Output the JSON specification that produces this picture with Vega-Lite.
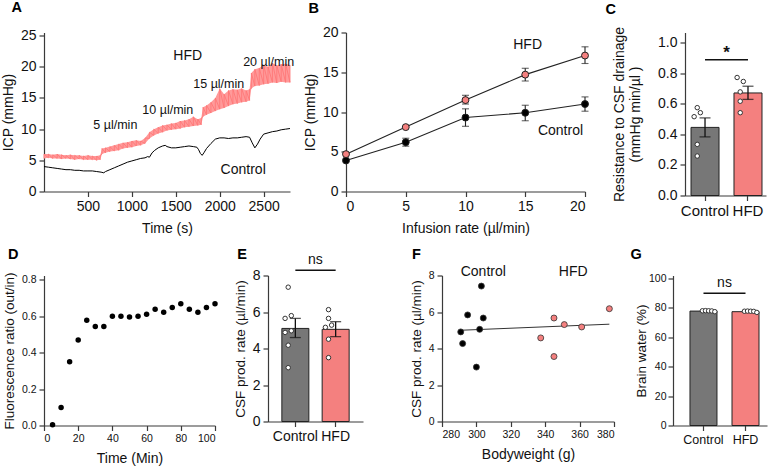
{
"$schema": "https://vega.github.io/schema/vega-lite/v6.json",
"padding": {"left": 1, "top": -0.5, "right": 2, "bottom": 0},
"config": {
  "view": {"stroke": null},
  "font": "Liberation Sans",
  "axis": {"grid": false, "labelOverlap": false, "domainColor": "#3a3a3a", "tickColor": "#3a3a3a", "domainWidth": 1.2, "tickWidth": 1.2, "tickSize": 5, "labelFont": "Liberation Sans", "titleFont": "Liberation Sans", "labelFontSize": 14, "titleFontSize": 14, "titleFontWeight": "normal", "labelColor": "#111", "titleColor": "#111", "labelPadding": 3, "titlePadding": 5},
  "title": {"font": "Liberation Sans", "fontSize": 14.5, "fontWeight": "bold", "anchor": "start", "frame": "bounds", "color": "#000", "offset": 8},
  "text": {"font": "Liberation Sans", "fontSize": 14, "color": "#111"}
},
"resolve": {"scale": {"fill": "independent"}},
"datasets": {
  "hfdA": [
    {"t": 0, "lo": 5.3, "hi": 6.0}, {"t": 50, "lo": 5.4, "hi": 6.0}, {"t": 100, "lo": 5.3, "hi": 5.9}, {"t": 150, "lo": 5.3, "hi": 6.0},
    {"t": 200, "lo": 5.2, "hi": 5.9}, {"t": 250, "lo": 5.3, "hi": 5.8}, {"t": 300, "lo": 5.2, "hi": 5.9}, {"t": 350, "lo": 5.1, "hi": 5.8},
    {"t": 400, "lo": 5.2, "hi": 5.8}, {"t": 450, "lo": 5.1, "hi": 5.7}, {"t": 500, "lo": 5.1, "hi": 5.8}, {"t": 550, "lo": 5.1, "hi": 5.7},
    {"t": 600, "lo": 5.0, "hi": 5.7}, {"t": 640, "lo": 5.1, "hi": 5.8}, {"t": 660, "lo": 6.0, "hi": 6.9}, {"t": 700, "lo": 6.2, "hi": 7.0},
    {"t": 750, "lo": 6.4, "hi": 7.2}, {"t": 800, "lo": 6.5, "hi": 7.4}, {"t": 850, "lo": 6.6, "hi": 7.6}, {"t": 900, "lo": 6.9, "hi": 7.8},
    {"t": 950, "lo": 7.0, "hi": 7.9}, {"t": 1000, "lo": 7.1, "hi": 8.1}, {"t": 1050, "lo": 7.3, "hi": 8.2}, {"t": 1100, "lo": 7.4, "hi": 8.1},
    {"t": 1150, "lo": 7.7, "hi": 8.6}, {"t": 1200, "lo": 8.5, "hi": 9.5}, {"t": 1250, "lo": 9.0, "hi": 10.0}, {"t": 1300, "lo": 9.3, "hi": 10.3},
    {"t": 1350, "lo": 9.5, "hi": 10.6}, {"t": 1400, "lo": 9.8, "hi": 10.7}, {"t": 1450, "lo": 9.9, "hi": 10.9}, {"t": 1500, "lo": 10.0, "hi": 11.0},
    {"t": 1550, "lo": 10.1, "hi": 11.3}, {"t": 1600, "lo": 10.3, "hi": 11.4}, {"t": 1650, "lo": 10.4, "hi": 11.6}, {"t": 1700, "lo": 10.5, "hi": 12.0},
    {"t": 1750, "lo": 10.6, "hi": 11.6}, {"t": 1790, "lo": 10.7, "hi": 11.8}, {"t": 1810, "lo": 12.0, "hi": 13.5}, {"t": 1850, "lo": 12.3, "hi": 13.8},
    {"t": 1900, "lo": 12.6, "hi": 14.3}, {"t": 1950, "lo": 12.9, "hi": 15.0}, {"t": 2000, "lo": 13.2, "hi": 16.5}, {"t": 2050, "lo": 13.4, "hi": 15.6},
    {"t": 2100, "lo": 13.7, "hi": 16.2}, {"t": 2150, "lo": 14.0, "hi": 16.4}, {"t": 2200, "lo": 14.1, "hi": 16.3}, {"t": 2250, "lo": 14.3, "hi": 16.5},
    {"t": 2300, "lo": 14.4, "hi": 16.2}, {"t": 2340, "lo": 14.6, "hi": 16.4}, {"t": 2360, "lo": 16.5, "hi": 19.0}, {"t": 2400, "lo": 16.9, "hi": 19.6},
    {"t": 2450, "lo": 17.0, "hi": 19.8}, {"t": 2500, "lo": 17.2, "hi": 20.3}, {"t": 2550, "lo": 17.3, "hi": 20.0}, {"t": 2600, "lo": 17.5, "hi": 20.6},
    {"t": 2650, "lo": 17.4, "hi": 20.2}, {"t": 2700, "lo": 17.6, "hi": 20.4}, {"t": 2750, "lo": 17.5, "hi": 20.5}, {"t": 2800, "lo": 17.5, "hi": 20.3}
  ],
  "ctlA": [
    {"t": 0, "icp": 4.0}, {"t": 50, "icp": 3.9}, {"t": 100, "icp": 3.8}, {"t": 150, "icp": 3.7}, {"t": 200, "icp": 3.6}, {"t": 250, "icp": 3.5},
    {"t": 300, "icp": 3.5}, {"t": 350, "icp": 3.4}, {"t": 400, "icp": 3.4}, {"t": 450, "icp": 3.3}, {"t": 500, "icp": 3.3}, {"t": 550, "icp": 3.3},
    {"t": 600, "icp": 3.2}, {"t": 650, "icp": 3.1}, {"t": 680, "icp": 3.0}, {"t": 700, "icp": 3.2}, {"t": 750, "icp": 3.5}, {"t": 800, "icp": 3.8},
    {"t": 850, "icp": 4.1}, {"t": 900, "icp": 4.4}, {"t": 950, "icp": 4.7}, {"t": 1000, "icp": 4.9}, {"t": 1050, "icp": 5.1}, {"t": 1100, "icp": 5.3},
    {"t": 1150, "icp": 5.4}, {"t": 1180, "icp": 5.6}, {"t": 1200, "icp": 5.5}, {"t": 1230, "icp": 6.2}, {"t": 1260, "icp": 6.6}, {"t": 1300, "icp": 7.0},
    {"t": 1350, "icp": 7.3}, {"t": 1380, "icp": 7.4}, {"t": 1400, "icp": 7.2}, {"t": 1450, "icp": 7.0}, {"t": 1500, "icp": 7.0}, {"t": 1550, "icp": 7.1},
    {"t": 1600, "icp": 7.2}, {"t": 1650, "icp": 7.3}, {"t": 1700, "icp": 7.2}, {"t": 1740, "icp": 7.1}, {"t": 1760, "icp": 6.7}, {"t": 1780, "icp": 6.1},
    {"t": 1800, "icp": 5.8}, {"t": 1820, "icp": 6.2}, {"t": 1850, "icp": 6.9}, {"t": 1900, "icp": 7.7}, {"t": 1950, "icp": 8.4}, {"t": 2000, "icp": 8.6},
    {"t": 2050, "icp": 8.6}, {"t": 2100, "icp": 8.5}, {"t": 2150, "icp": 8.6}, {"t": 2200, "icp": 8.6}, {"t": 2250, "icp": 8.7}, {"t": 2300, "icp": 8.8},
    {"t": 2340, "icp": 8.7}, {"t": 2370, "icp": 7.8}, {"t": 2400, "icp": 7.0}, {"t": 2430, "icp": 7.6}, {"t": 2460, "icp": 8.4}, {"t": 2500, "icp": 9.2},
    {"t": 2550, "icp": 9.4}, {"t": 2600, "icp": 9.6}, {"t": 2650, "icp": 9.7}, {"t": 2700, "icp": 9.9}, {"t": 2750, "icp": 10.0}, {"t": 2800, "icp": 10.1}
  ],
  "annA1": [
    {"t": 1636, "icp": 21.8, "label": "HFD"}, {"t": 2267, "icp": 3.5, "label": "Control"}
  ],
  "annA2": [
    {"t": 812, "icp": 10.6, "label": "5 µl/min"}, {"t": 1409, "icp": 13.0, "label": "10 µl/min"},
    {"t": 1989, "icp": 17.2, "label": "15 µl/min"}, {"t": 2557, "icp": 20.8, "label": "20 µl/min"}
  ],
  "icpB": [
    {"group": "Control", "rate": 0, "icp": 3.9, "lo": 3.9, "hi": 3.9},
    {"group": "Control", "rate": 5, "icp": 6.2, "lo": 5.7, "hi": 6.7},
    {"group": "Control", "rate": 10, "icp": 9.3, "lo": 8.2, "hi": 10.4},
    {"group": "Control", "rate": 15, "icp": 9.9, "lo": 8.9, "hi": 10.85},
    {"group": "Control", "rate": 20, "icp": 11.0, "lo": 10.1, "hi": 11.9},
    {"group": "HFD", "rate": 0, "icp": 4.7, "lo": 4.7, "hi": 4.7},
    {"group": "HFD", "rate": 5, "icp": 8.1, "lo": 8.1, "hi": 8.1},
    {"group": "HFD", "rate": 10, "icp": 11.5, "lo": 11.0, "hi": 12.1},
    {"group": "HFD", "rate": 15, "icp": 14.7, "lo": 13.9, "hi": 15.5},
    {"group": "HFD", "rate": 20, "icp": 17.1, "lo": 16.1, "hi": 18.2}
  ],
  "annB": [
    {"rate": 15.2, "icp": 18.4, "label": "HFD"}, {"rate": 17.95, "icp": 7.6, "label": "Control"}
  ],
  "barC": [
    {"group": "Control", "mean": 0.445, "lo": 0.383, "hi": 0.507},
    {"group": "HFD", "mean": 0.67, "lo": 0.628, "hi": 0.714}
  ],
  "dotC": [
    {"group": "Control", "slot": "l", "v": 0.515}, {"group": "Control", "slot": "c", "v": 0.574}, {"group": "Control", "slot": "r", "v": 0.541},
    {"group": "Control", "slot": "c", "v": 0.334}, {"group": "Control", "slot": "c", "v": 0.258},
    {"group": "HFD", "slot": "l", "v": 0.771}, {"group": "HFD", "slot": "r", "v": 0.745}, {"group": "HFD", "slot": "c", "v": 0.677},
    {"group": "HFD", "slot": "c", "v": 0.616}, {"group": "HFD", "slot": "c", "v": 0.541}
  ],
  "sigC": [{"a": "Control", "b": "HFD", "y": 0.887, "ty": 0.93, "txt": "*"}],
  "ratioD": [
    {"t": 5, "r": 0.004}, {"t": 10, "r": 0.099}, {"t": 15, "r": 0.349}, {"t": 20, "r": 0.468}, {"t": 25, "r": 0.577},
    {"t": 30, "r": 0.542}, {"t": 35, "r": 0.542}, {"t": 40, "r": 0.599}, {"t": 45, "r": 0.599}, {"t": 50, "r": 0.594},
    {"t": 55, "r": 0.599}, {"t": 60, "r": 0.610}, {"t": 65, "r": 0.637}, {"t": 70, "r": 0.621}, {"t": 75, "r": 0.647},
    {"t": 80, "r": 0.667}, {"t": 85, "r": 0.637}, {"t": 90, "r": 0.621}, {"t": 95, "r": 0.647}, {"t": 100, "r": 0.667}
  ],
  "barE": [
    {"group": "Control", "mean": 5.1, "lo": 4.6, "hi": 5.65},
    {"group": "HFD", "mean": 5.05, "lo": 4.65, "hi": 5.47}
  ],
  "dotE": [
    {"group": "Control", "slot": "c", "v": 7.36}, {"group": "Control", "slot": "r", "v": 5.80}, {"group": "Control", "slot": "l", "v": 5.65},
    {"group": "Control", "slot": "r", "v": 4.97}, {"group": "Control", "slot": "l", "v": 4.88}, {"group": "Control", "slot": "c", "v": 4.18},
    {"group": "Control", "slot": "c", "v": 2.95},
    {"group": "HFD", "slot": "c", "v": 6.13}, {"group": "HFD", "slot": "c", "v": 5.65}, {"group": "HFD", "slot": "r", "v": 5.28},
    {"group": "HFD", "slot": "l", "v": 5.16}, {"group": "HFD", "slot": "c", "v": 4.51}, {"group": "HFD", "slot": "c", "v": 3.5}
  ],
  "sigE": [{"a": "Control", "b": "HFD", "y": 8.29, "ty": 8.85, "txt": "ns"}],
  "dotF": [
    {"group": "Control", "bw": 290.9, "cpr": 4.91}, {"group": "Control", "bw": 292.0, "cpr": 4.27}, {"group": "Control", "bw": 294.9, "cpr": 5.84},
    {"group": "Control", "bw": 300.0, "cpr": 2.98}, {"group": "Control", "bw": 301.9, "cpr": 5.05}, {"group": "Control", "bw": 302.9, "cpr": 7.42},
    {"group": "Control", "bw": 304.0, "cpr": 5.67},
    {"group": "HFD", "bw": 337.4, "cpr": 4.58}, {"group": "HFD", "bw": 345.1, "cpr": 5.67}, {"group": "HFD", "bw": 345.1, "cpr": 3.56},
    {"group": "HFD", "bw": 351.1, "cpr": 5.31}, {"group": "HFD", "bw": 361.2, "cpr": 5.18}, {"group": "HFD", "bw": 377.3, "cpr": 6.18}
  ],
  "annF": [
    {"bw": 304.0, "cpr": 8.18, "label": "Control"}, {"bw": 356.3, "cpr": 8.18, "label": "HFD"}
  ],
  "barG": [
    {"group": "Control", "mean": 77.8, "lo": 77.5, "hi": 78.1},
    {"group": "HFD", "mean": 77.4, "lo": 77.1, "hi": 77.7}
  ],
  "dotG": [
    {"group": "Control", "slot": "1", "v": 78.0}, {"group": "Control", "slot": "2", "v": 78.1}, {"group": "Control", "slot": "3", "v": 78.0},
    {"group": "Control", "slot": "4", "v": 77.9}, {"group": "Control", "slot": "5", "v": 77.4},
    {"group": "HFD", "slot": "1", "v": 77.7}, {"group": "HFD", "slot": "2", "v": 77.8}, {"group": "HFD", "slot": "3", "v": 77.7},
    {"group": "HFD", "slot": "4", "v": 77.6}, {"group": "HFD", "slot": "5", "v": 76.9}
  ],
  "sigG": [{"a": "Control", "b": "HFD", "y": 90, "ty": 97, "txt": "ns"}],
  "labD": [{"t": 0, "r": 0.822, "lab": "D"}],
  "labE": [{"lab": "E"}],
  "labF": [{"bw": 280, "cpr": 8, "lab": "F"}],
  "labG": [{"lab": "G"}]
},
"spacing": 11,
"vconcat": [
  {
    "spacing": 8,
    "resolve": {"scale": {"fill": "independent"}},
    "hconcat": [
      {
        "width": 246, "height": 159,
        "title": {"text": "A", "dx": 10, "offset": 13},
        "layer": [
          {"data": {"name": "hfdA"}, "mark": {"type": "area", "color": "#ff9a9a", "opacity": 1},
           "encoding": {
             "x": {"field": "t", "type": "quantitative", "scale": {"domain": [0, 2800], "nice": false}, "axis": {"values": [500, 1000, 1500, 2000, 2500], "format": "d", "title": "Time (s)", "titlePadding": 8}},
             "y": {"field": "lo", "type": "quantitative", "scale": {"domain": [0, 25.5], "nice": false}, "axis": {"values": [0, 5, 10, 15, 20, 25], "title": "ICP (mmHg)"}},
             "y2": {"field": "hi"}}},
          {"data": {"name": "hfdA"}, "transform": [{"fold": ["lo", "hi"], "as": ["edge", "icp"]}], "mark": {"type": "line", "color": "#ff7474", "strokeWidth": 0.8},
           "encoding": {
             "x": {"field": "t", "type": "quantitative", "scale": {"domain": [0, 2800], "nice": false}, "axis": {"values": [500, 1000, 1500, 2000, 2500], "format": "d", "title": "Time (s)", "titlePadding": 8}},
             "y": {"field": "icp", "type": "quantitative", "scale": {"domain": [0, 25.5], "nice": false}, "axis": {"values": [0, 5, 10, 15, 20, 25], "title": "ICP (mmHg)"}}}},
          {"data": {"name": "ctlA"}, "mark": {"type": "line", "color": "#000", "strokeWidth": 1},
           "encoding": {
             "x": {"field": "t", "type": "quantitative", "scale": {"domain": [0, 2800], "nice": false}, "axis": {"values": [500, 1000, 1500, 2000, 2500], "format": "d", "title": "Time (s)", "titlePadding": 8}},
             "y": {"field": "icp", "type": "quantitative", "scale": {"domain": [0, 25.5], "nice": false}, "axis": {"values": [0, 5, 10, 15, 20, 25], "title": "ICP (mmHg)"}}}},
          {"data": {"name": "annA1"}, "mark": {"type": "text", "fontSize": 14},
           "encoding": {
             "x": {"field": "t", "type": "quantitative", "scale": {"domain": [0, 2800], "nice": false}, "axis": {"values": [500, 1000, 1500, 2000, 2500], "format": "d", "title": "Time (s)", "titlePadding": 8}},
             "y": {"field": "icp", "type": "quantitative", "scale": {"domain": [0, 25.5], "nice": false}, "axis": {"values": [0, 5, 10, 15, 20, 25], "title": "ICP (mmHg)"}},
             "text": {"field": "label"}}},
          {"data": {"name": "annA2"}, "mark": {"type": "text", "fontSize": 12.5},
           "encoding": {
             "x": {"field": "t", "type": "quantitative", "scale": {"domain": [0, 2800], "nice": false}, "axis": {"values": [500, 1000, 1500, 2000, 2500], "format": "d", "title": "Time (s)", "titlePadding": 8}},
             "y": {"field": "icp", "type": "quantitative", "scale": {"domain": [0, 25.5], "nice": false}, "axis": {"values": [0, 5, 10, 15, 20, 25], "title": "ICP (mmHg)"}},
             "text": {"field": "label"}}}
        ]
      },
      {
        "width": 239, "height": 159,
        "title": {"text": "B", "dx": 5, "offset": 9},
        "encoding": {
          "x": {"field": "rate", "type": "quantitative", "scale": {"domain": [0, 20], "nice": false}, "axis": {"values": [0, 5, 10, 15, 20], "title": "Infusion rate (µl/min)", "titlePadding": 8}}
        },
        "layer": [
          {"data": {"name": "icpB"}, "mark": {"type": "line", "color": "#222", "strokeWidth": 1.1},
           "encoding": {
             "y": {"field": "icp", "type": "quantitative", "scale": {"domain": [0, 20], "nice": false}, "axis": {"values": [0, 5, 10, 15, 20], "title": "ICP (mmHg)"}},
             "detail": {"field": "group"}}},
          {"data": {"name": "icpB"}, "transform": [{"filter": "datum.hi > datum.lo"}], "mark": {"type": "rule", "color": "#222", "strokeWidth": 1.1},
           "encoding": {"y": {"field": "lo", "type": "quantitative", "scale": {"domain": [0, 20], "nice": false}, "axis": {"values": [0, 5, 10, 15, 20], "title": "ICP (mmHg)"}}, "y2": {"field": "hi"}}},
          {"data": {"name": "icpB"}, "transform": [{"filter": "datum.hi > datum.lo"}], "mark": {"type": "tick", "orient": "horizontal", "color": "#222", "size": 7, "thickness": 1.1},
           "encoding": {"y": {"field": "lo", "type": "quantitative", "scale": {"domain": [0, 20], "nice": false}, "axis": {"values": [0, 5, 10, 15, 20], "title": "ICP (mmHg)"}}}},
          {"data": {"name": "icpB"}, "transform": [{"filter": "datum.hi > datum.lo"}], "mark": {"type": "tick", "orient": "horizontal", "color": "#222", "size": 7, "thickness": 1.1},
           "encoding": {"y": {"field": "hi", "type": "quantitative", "scale": {"domain": [0, 20], "nice": false}, "axis": {"values": [0, 5, 10, 15, 20], "title": "ICP (mmHg)"}}}},
          {"data": {"name": "icpB"}, "mark": {"type": "point", "filled": true, "size": 48, "stroke": "#222", "strokeWidth": 1, "opacity": 1},
           "encoding": {"y": {"field": "icp", "type": "quantitative", "scale": {"domain": [0, 20], "nice": false}, "axis": {"values": [0, 5, 10, 15, 20], "title": "ICP (mmHg)"}},
             "fill": {"field": "group", "type": "nominal", "scale": {"domain": ["Control", "HFD"], "range": ["#000000", "#f4807f"]}, "legend": null}}},
          {"data": {"name": "annB"}, "mark": {"type": "text", "fontSize": 14},
           "encoding": {"y": {"field": "icp", "type": "quantitative", "scale": {"domain": [0, 20], "nice": false}, "axis": {"values": [0, 5, 10, 15, 20], "title": "ICP (mmHg)"}}, "text": {"field": "label"}}},
          {"data": {"name": "annB"}, "transform": [{"filter": "datum.label == 'HFD'"}], "mark": {"type": "text", "fontSize": 14, "opacity": 0, "text": "XXX", "align": "right", "dx": 69},
           "encoding": {"y": {"field": "icp", "type": "quantitative", "scale": {"domain": [0, 20], "nice": false}, "axis": {"values": [0, 5, 10, 15, 20], "title": "ICP (mmHg)"}}}}
        ]
      },
      {
        "width": 81, "height": 163,
        "title": {"text": "C", "dx": -7, "offset": 9},
        "encoding": {
          "x": {"field": "group", "type": "nominal", "scale": {"domain": ["Control", "HFD"], "paddingInner": 0.349, "paddingOuter": 0.117, "align": 0.6}, "axis": {"title": null, "labelAngle": 0, "labelFontSize": 15}}
        },
        "layer": [
          {"data": {"name": "barC"}, "mark": {"type": "bar", "stroke": "#222", "strokeWidth": 1, "width": 28},
           "encoding": {
             "y": {"field": "mean", "type": "quantitative", "scale": {"domain": [0, 1.065], "nice": false}, "axis": {"values": [0, 0.2, 0.4, 0.6, 0.8, 1.0], "format": ".1f", "title": ["Resistance to CSF drainage", "(mmHg min/µl )"], "titleLineHeight": 16, "titlePadding": 15}},
             "fill": {"field": "group", "type": "nominal", "scale": {"domain": ["Control", "HFD"], "range": ["#777777", "#f4807f"]}, "legend": null}}},
          {"data": {"name": "barC"}, "mark": {"type": "rule", "color": "#111", "strokeWidth": 1.3},
           "encoding": {"y": {"field": "lo", "type": "quantitative", "scale": {"domain": [0, 1.065], "nice": false}, "axis": {"values": [0, 0.2, 0.4, 0.6, 0.8, 1.0], "format": ".1f", "title": ["Resistance to CSF drainage", "(mmHg min/µl )"], "titleLineHeight": 16, "titlePadding": 15}}, "y2": {"field": "hi"}}},
          {"data": {"name": "barC"}, "mark": {"type": "tick", "color": "#111", "size": 11, "thickness": 1.3},
           "encoding": {"y": {"field": "lo", "type": "quantitative", "scale": {"domain": [0, 1.065], "nice": false}, "axis": {"values": [0, 0.2, 0.4, 0.6, 0.8, 1.0], "format": ".1f", "title": ["Resistance to CSF drainage", "(mmHg min/µl )"], "titleLineHeight": 16, "titlePadding": 15}}}},
          {"data": {"name": "barC"}, "mark": {"type": "tick", "color": "#111", "size": 11, "thickness": 1.3},
           "encoding": {"y": {"field": "hi", "type": "quantitative", "scale": {"domain": [0, 1.065], "nice": false}, "axis": {"values": [0, 0.2, 0.4, 0.6, 0.8, 1.0], "format": ".1f", "title": ["Resistance to CSF drainage", "(mmHg min/µl )"], "titleLineHeight": 16, "titlePadding": 15}}}},
          {"data": {"name": "dotC"}, "mark": {"type": "point", "filled": true, "fill": "#ffffff", "stroke": "#333", "strokeWidth": 1, "size": 20, "opacity": 1},
           "encoding": {"xOffset": {"field": "slot", "type": "nominal", "scale": {"domain": ["l", "c", "r"], "paddingOuter": 1.3}},
             "y": {"field": "v", "type": "quantitative", "scale": {"domain": [0, 1.065], "nice": false}, "axis": {"values": [0, 0.2, 0.4, 0.6, 0.8, 1.0], "format": ".1f", "title": ["Resistance to CSF drainage", "(mmHg min/µl )"], "titleLineHeight": 16, "titlePadding": 15}}}},
          {"data": {"name": "sigC"}, "mark": {"type": "rule", "color": "#111", "strokeWidth": 1.5},
           "encoding": {"x": {"field": "a", "type": "nominal", "scale": {"domain": ["Control", "HFD"], "paddingInner": 0.349, "paddingOuter": 0.117, "align": 0.6}, "axis": {"title": null, "labelAngle": 0, "labelFontSize": 15}}, "x2": {"field": "b"},
             "y": {"field": "y", "type": "quantitative", "scale": {"domain": [0, 1.065], "nice": false}, "axis": {"values": [0, 0.2, 0.4, 0.6, 0.8, 1.0], "format": ".1f", "title": ["Resistance to CSF drainage", "(mmHg min/µl )"], "titleLineHeight": 16, "titlePadding": 15}}}},
          {"data": {"name": "sigC"}, "mark": {"type": "text", "fontSize": 17, "fontWeight": "bold", "dx": 21.5},
           "encoding": {"x": {"field": "a", "type": "nominal", "scale": {"domain": ["Control", "HFD"], "paddingInner": 0.349, "paddingOuter": 0.117, "align": 0.6}, "axis": {"title": null, "labelAngle": 0, "labelFontSize": 15}},
             "y": {"field": "ty", "type": "quantitative", "scale": {"domain": [0, 1.065], "nice": false}, "axis": {"values": [0, 0.2, 0.4, 0.6, 0.8, 1.0], "format": ".1f", "title": ["Resistance to CSF drainage", "(mmHg min/µl )"], "titleLineHeight": 16, "titlePadding": 15}}, "text": {"field": "txt"}}}
        ]
      }
    ]
  },
  {
    "spacing": 15,
    "resolve": {"scale": {"fill": "independent"}},
    "hconcat": [
      {
        "width": 171, "height": 150,
        "encoding": {
          "x": {"field": "t", "type": "quantitative", "scale": {"domain": [0, 100], "nice": false}, "axis": {"values": [0, 20, 40, 60, 80, 100], "title": "Time (Min)", "labelFontSize": 10.5, "titleFontSize": 14, "titlePadding": 7}},
          "y": {"field": "r", "type": "quantitative", "scale": {"domain": [0, 0.822], "nice": false}, "axis": {"values": [0, 0.2, 0.4, 0.6, 0.8], "format": ".1f", "title": "Fluorescence ratio (out/in)", "labelFontSize": 10.5, "titleFontSize": 13.5}}
        },
        "layer": [
          {"data": {"name": "ratioD"}, "mark": {"type": "point", "filled": true, "color": "#000", "size": 30, "opacity": 1}},
          {"data": {"name": "labD"}, "mark": {"type": "text", "font": "Liberation Sans", "fontSize": 14.5, "fontWeight": "bold", "color": "#000", "align": "left", "baseline": "middle", "dx": -36, "dy": -21},
           "encoding": {"text": {"field": "lab"}}}
        ]
      },
      {
        "width": 95, "height": 146,
        "encoding": {
          "x": {"field": "group", "type": "nominal", "scale": {"domain": ["Control", "HFD"], "paddingInner": 0.337, "paddingOuter": 0.347}, "axis": {"title": null, "labelAngle": 0, "labelFontSize": 14}}
        },
        "layer": [
          {"data": {"name": "barE"}, "mark": {"type": "bar", "stroke": "#222", "strokeWidth": 1, "width": 27},
           "encoding": {
             "y": {"field": "mean", "type": "quantitative", "scale": {"domain": [0, 8], "nice": false}, "axis": {"values": [0, 2, 4, 6, 8], "title": "CSF prod. rate (µl/min)", "titleFontSize": 13.5}},
             "fill": {"field": "group", "type": "nominal", "scale": {"domain": ["Control", "HFD"], "range": ["#777777", "#f4807f"]}, "legend": null}}},
          {"data": {"name": "barE"}, "mark": {"type": "rule", "color": "#111", "strokeWidth": 1.3},
           "encoding": {"y": {"field": "lo", "type": "quantitative", "scale": {"domain": [0, 8], "nice": false}, "axis": {"values": [0, 2, 4, 6, 8], "title": "CSF prod. rate (µl/min)", "titleFontSize": 13.5}}, "y2": {"field": "hi"}}},
          {"data": {"name": "barE"}, "mark": {"type": "tick", "color": "#111", "size": 11, "thickness": 1.3},
           "encoding": {"y": {"field": "lo", "type": "quantitative", "scale": {"domain": [0, 8], "nice": false}, "axis": {"values": [0, 2, 4, 6, 8], "title": "CSF prod. rate (µl/min)", "titleFontSize": 13.5}}}},
          {"data": {"name": "barE"}, "mark": {"type": "tick", "color": "#111", "size": 11, "thickness": 1.3},
           "encoding": {"y": {"field": "hi", "type": "quantitative", "scale": {"domain": [0, 8], "nice": false}, "axis": {"values": [0, 2, 4, 6, 8], "title": "CSF prod. rate (µl/min)", "titleFontSize": 13.5}}}},
          {"data": {"name": "dotE"}, "mark": {"type": "point", "filled": true, "fill": "#ffffff", "stroke": "#333", "strokeWidth": 1, "size": 20, "opacity": 1},
           "encoding": {"xOffset": {"field": "slot", "type": "nominal", "scale": {"domain": ["l", "c", "r"], "paddingOuter": 1.34}},
             "y": {"field": "v", "type": "quantitative", "scale": {"domain": [0, 8], "nice": false}, "axis": {"values": [0, 2, 4, 6, 8], "title": "CSF prod. rate (µl/min)", "titleFontSize": 13.5}}}},
          {"data": {"name": "sigE"}, "mark": {"type": "rule", "color": "#111", "strokeWidth": 1.5},
           "encoding": {"x": {"field": "a", "type": "nominal", "scale": {"domain": ["Control", "HFD"], "paddingInner": 0.337, "paddingOuter": 0.347}, "axis": {"title": null, "labelAngle": 0, "labelFontSize": 14}}, "x2": {"field": "b"},
             "y": {"field": "y", "type": "quantitative", "scale": {"domain": [0, 8], "nice": false}, "axis": {"values": [0, 2, 4, 6, 8], "title": "CSF prod. rate (µl/min)", "titleFontSize": 13.5}}}},
          {"data": {"name": "sigE"}, "mark": {"type": "text", "fontSize": 14, "dx": 20},
           "encoding": {"x": {"field": "a", "type": "nominal", "scale": {"domain": ["Control", "HFD"], "paddingInner": 0.337, "paddingOuter": 0.347}, "axis": {"title": null, "labelAngle": 0, "labelFontSize": 14}},
             "y": {"field": "ty", "type": "quantitative", "scale": {"domain": [0, 8], "nice": false}, "axis": {"values": [0, 2, 4, 6, 8], "title": "CSF prod. rate (µl/min)", "titleFontSize": 13.5}}, "text": {"field": "txt"}}},
          {"data": {"name": "sigE"}, "mark": {"type": "text", "fontSize": 14, "opacity": 0, "text": "XXX", "align": "right", "dx": 98},
           "encoding": {"x": {"field": "a", "type": "nominal", "scale": {"domain": ["Control", "HFD"], "paddingInner": 0.337, "paddingOuter": 0.347}, "axis": {"title": null, "labelAngle": 0, "labelFontSize": 14}},
             "y": {"field": "y", "type": "quantitative", "scale": {"domain": [0, 8], "nice": false}, "axis": {"values": [0, 2, 4, 6, 8], "title": "CSF prod. rate (µl/min)", "titleFontSize": 13.5}}}},
          {"data": {"name": "labE"}, "mark": {"type": "text", "font": "Liberation Sans", "fontSize": 14.5, "fontWeight": "bold", "color": "#000", "align": "left", "baseline": "middle", "dx": -58, "dy": -21},
           "encoding": {"x": {"datum": "Control", "type": "nominal", "scale": {"domain": ["Control", "HFD"], "paddingInner": 0.337, "paddingOuter": 0.347}, "axis": {"title": null, "labelAngle": 0, "labelFontSize": 14}},
             "y": {"datum": 8, "type": "quantitative", "scale": {"domain": [0, 8], "nice": false}, "axis": {"values": [0, 2, 4, 6, 8], "title": "CSF prod. rate (µl/min)", "titleFontSize": 13.5}}, "text": {"field": "lab"}}}
        ]
      },
      {
        "width": 172, "height": 146,
        "encoding": {
          "x": {"field": "bw", "type": "quantitative", "scale": {"domain": [280, 380], "nice": false}, "axis": {"values": [280, 300, 320, 340, 360, 380], "title": "Bodyweight (g)", "labelFontSize": 10.5, "titlePadding": 7}},
          "y": {"field": "cpr", "type": "quantitative", "scale": {"domain": [0, 8], "nice": false}, "axis": {"values": [0, 2, 4, 6, 8], "title": "CSF prod. rate (µl/min)", "labelFontSize": 10.5, "titleFontSize": 13.5, "titlePadding": 5}}
        },
        "layer": [
          {"data": {"name": "dotF"}, "transform": [{"regression": "cpr", "on": "bw"}], "mark": {"type": "line", "color": "#333", "strokeWidth": 1}},
          {"data": {"name": "dotF"}, "mark": {"type": "point", "filled": true, "size": 36, "stroke": "#333", "strokeWidth": 0.8, "opacity": 1},
           "encoding": {"fill": {"field": "group", "type": "nominal", "scale": {"domain": ["Control", "HFD"], "range": ["#000000", "#f4807f"]}, "legend": null}}},
          {"data": {"name": "annF"}, "mark": {"type": "text", "fontSize": 14},
           "encoding": {"text": {"field": "label"}}},
          {"data": {"name": "labF"}, "mark": {"type": "text", "font": "Liberation Sans", "fontSize": 14.5, "fontWeight": "bold", "color": "#000", "align": "left", "baseline": "middle", "dx": -30, "dy": -21},
           "encoding": {"text": {"field": "lab"}}}
        ]
      },
      {
        "width": 94, "height": 150,
        "encoding": {
          "x": {"field": "group", "type": "nominal", "scale": {"domain": ["Control", "HFD"], "paddingInner": 0.357, "paddingOuter": 0.297, "align": 0.68}, "axis": {"title": null, "labelAngle": 0, "labelFontSize": 12.5}}
        },
        "layer": [
          {"data": {"name": "barG"}, "mark": {"type": "bar", "stroke": "#222", "strokeWidth": 1, "width": 27},
           "encoding": {
             "y": {"field": "mean", "type": "quantitative", "scale": {"domain": [0, 102], "nice": false}, "axis": {"values": [0, 20, 40, 60, 80, 100], "title": "Brain water (%)", "labelFontSize": 10.5, "titleFontSize": 13.5, "titlePadding": 0, "labelPadding": 2}},
             "fill": {"field": "group", "type": "nominal", "scale": {"domain": ["Control", "HFD"], "range": ["#777777", "#f4807f"]}, "legend": null}}},
          {"data": {"name": "dotG"}, "mark": {"type": "point", "filled": true, "fill": "#ffffff", "stroke": "#333", "strokeWidth": 1, "size": 20, "opacity": 1},
           "encoding": {"xOffset": {"field": "slot", "type": "nominal", "scale": {"domain": ["1", "2", "3", "4", "5"]}},
             "y": {"field": "v", "type": "quantitative", "scale": {"domain": [0, 102], "nice": false}, "axis": {"values": [0, 20, 40, 60, 80, 100], "title": "Brain water (%)", "labelFontSize": 10.5, "titleFontSize": 13.5, "titlePadding": 0, "labelPadding": 2}}}},
          {"data": {"name": "sigG"}, "mark": {"type": "rule", "color": "#111", "strokeWidth": 1.5},
           "encoding": {"x": {"field": "a", "type": "nominal", "scale": {"domain": ["Control", "HFD"], "paddingInner": 0.357, "paddingOuter": 0.297, "align": 0.68}, "axis": {"title": null, "labelAngle": 0, "labelFontSize": 12.5}}, "x2": {"field": "b"},
             "y": {"field": "y", "type": "quantitative", "scale": {"domain": [0, 102], "nice": false}, "axis": {"values": [0, 20, 40, 60, 80, 100], "title": "Brain water (%)", "labelFontSize": 10.5, "titleFontSize": 13.5, "titlePadding": 0, "labelPadding": 2}}}},
          {"data": {"name": "sigG"}, "mark": {"type": "text", "fontSize": 14, "dx": 21},
           "encoding": {"x": {"field": "a", "type": "nominal", "scale": {"domain": ["Control", "HFD"], "paddingInner": 0.357, "paddingOuter": 0.297, "align": 0.68}, "axis": {"title": null, "labelAngle": 0, "labelFontSize": 12.5}},
             "y": {"field": "ty", "type": "quantitative", "scale": {"domain": [0, 102], "nice": false}, "axis": {"values": [0, 20, 40, 60, 80, 100], "title": "Brain water (%)", "labelFontSize": 10.5, "titleFontSize": 13.5, "titlePadding": 0, "labelPadding": 2}}, "text": {"field": "txt"}}},
          {"data": {"name": "labG"}, "mark": {"type": "text", "font": "Liberation Sans", "fontSize": 14.5, "fontWeight": "bold", "color": "#000", "align": "left", "baseline": "middle", "dx": -73, "dy": -21},
           "encoding": {"x": {"datum": "Control", "type": "nominal", "scale": {"domain": ["Control", "HFD"], "paddingInner": 0.357, "paddingOuter": 0.297, "align": 0.68}, "axis": {"title": null, "labelAngle": 0, "labelFontSize": 12.5}},
             "y": {"datum": 102, "type": "quantitative", "scale": {"domain": [0, 102], "nice": false}, "axis": {"values": [0, 20, 40, 60, 80, 100], "title": "Brain water (%)", "labelFontSize": 10.5, "titleFontSize": 13.5, "titlePadding": 0, "labelPadding": 2}}, "text": {"field": "lab"}}}
        ]
      }
    ]
  }
]
}
